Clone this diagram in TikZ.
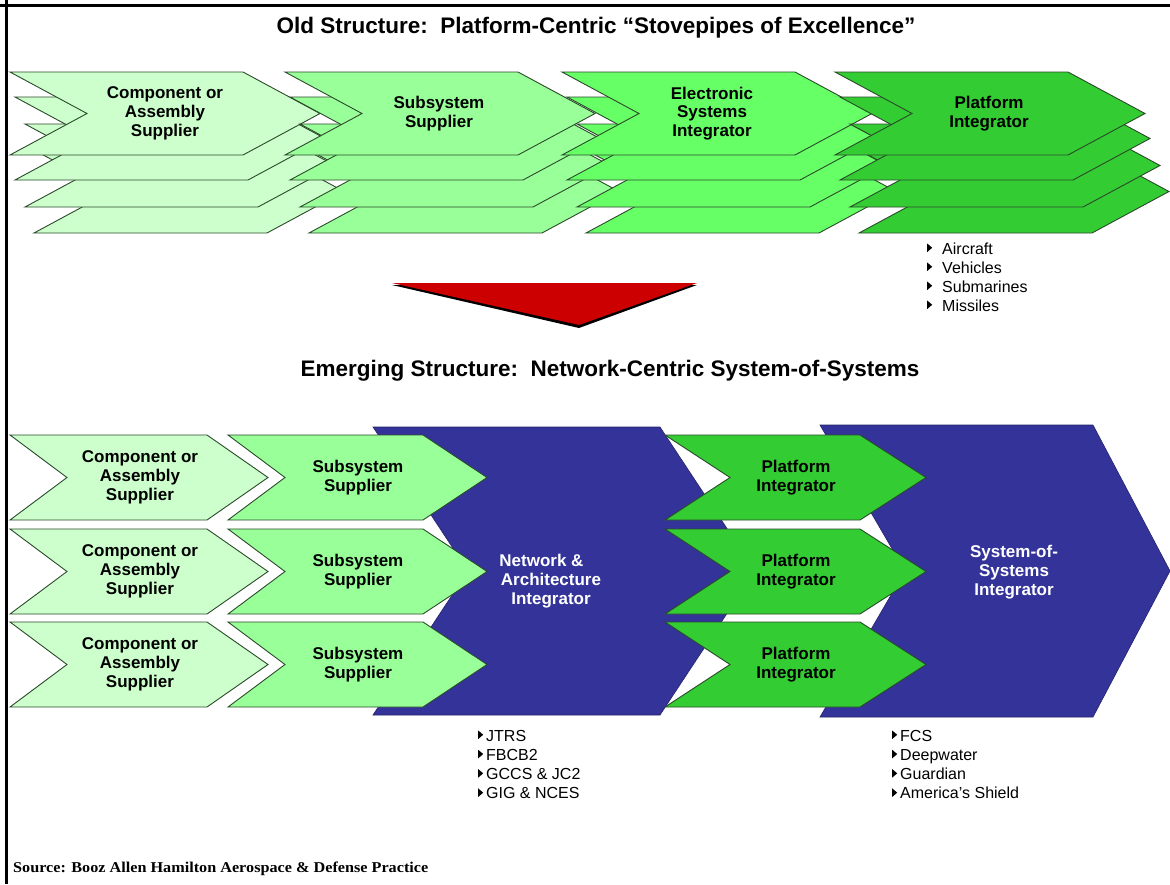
\documentclass[tikz,border=0pt]{standalone}
\usepackage{fontspec}
\usepackage{graphicx}
\setmainfont{Liberation Sans}
\newfontfamily\srcfont{Liberation Serif}
\definecolor{gA}{HTML}{CCFFCC}
\definecolor{gB}{HTML}{99FF99}
\definecolor{gC}{HTML}{66FF66}
\definecolor{gD}{HTML}{33CC33}
\definecolor{edgec}{HTML}{2B4A2B}
\definecolor{nblue}{HTML}{333399}
\definecolor{tred}{HTML}{CC0000}
% chevron: #1 left x, #2 top y, #3 body width, #4 height, #5 notch depth, #6 tip depth, #7 style
\newcommand\chevshape[7]{\draw[#7] (#1,#2) -- ++(#3,0) -- ++(#6,#4/2) -- ++(-#6,#4/2) -- ++(-#3,0) -- ++(#5,-#4/2) -- cycle;}
\newcommand\bul{\tikz[x=1pt,y=1pt,baseline=-2pt]\fill[black] (0,0) -- (0,8.5) -- (5,4.25) -- cycle;}
\begin{document}
\begin{tikzpicture}[x=1pt,y=-1pt,
  edge/.style={draw=edgec, line width=0.9pt, line join=miter},
  lab/.style={font=\fontsize{17}{18.7}\selectfont\bfseries, align=center, inner sep=0pt},
  wlab/.style={lab, text=white},
  ttl/.style={font=\fontsize{22.5}{26}\selectfont\bfseries, inner sep=0pt, anchor=base},
  bl/.style={font=\fontsize{16}{19}\selectfont, inner sep=0pt, anchor=base west},
]
\useasboundingbox (0,0) rectangle (1170,884);
\fill[white] (0,0) rectangle (1170,884);

% frame
\draw[line width=3pt] (0,5.5) -- (1170,5.5);
\draw[line width=3pt] (6.5,0) -- (6.5,884);

% titles
\node[ttl] (t1) at (596,33) {Old Structure:\ \ Platform-Centric “Stovepipes of Excellence”};
\node[ttl] (t2) at (610,376) {Emerging Structure:\ \ Network-Centric System-of-Systems};

% ---------- old structure: stacked chevrons ----------
\foreach \L/\c in {10/gA,285/gB,562/gC,835/gD} {
  \foreach \ox/\oy in {24/78,15/52,5/25,0/0} {
    \chevshape{\L+\ox}{72+\oy}{233}{83}{77}{77}{fill=\c, edge}
  }
}
\node[lab] (u1) at (165,113.5) {Component or\\Assembly\\Supplier};
\node[lab] (u2) at (439,113.5) {Subsystem\\Supplier};
\node[lab] (u3) at (712,113.5) {Electronic\\Systems\\Integrator};
\node[lab] (u4) at (989,113.5) {Platform\\Integrator};

\foreach \t [count=\i] in {Aircraft,Vehicles,Submarines,Missiles}
  \node[bl] (pl\i) at (927,{254+19*(\i-1)}) {\bul\hspace{10pt}\t};

% red transition arrow
\fill[black] (392,285) -- (697,285) -- (579,328) -- cycle;
\fill[tred] (392,283) -- (697,283) -- (579,325) -- cycle;

% ---------- emerging structure ----------
\chevshape{373}{427}{287}{288}{95}{95}{fill=nblue, draw=nblue!70!black, line width=0.6pt}
\chevshape{820}{425}{273}{292}{85}{77}{fill=nblue, draw=nblue!70!black, line width=0.6pt}

\foreach \t [count=\r] in {435,529,622} {
  \chevshape{10}{\t}{197}{85}{57}{61}{fill=gA, edge}
  \chevshape{228}{\t}{195}{85}{57}{64}{fill=gB, edge}
  \chevshape{665}{\t}{195}{85}{65}{66}{fill=gD, edge}
  \node[lab] (c\r) at (140,{\t+42.5}) {Component or\\Assembly\\Supplier};
  \node[lab] (s\r) at (358,{\t+42.5}) {Subsystem\\Supplier};
  \node[lab] (p\r) at (796,{\t+42.5}) {Platform\\Integrator};
}
\node[wlab] (net) at (551,581) {\mbox{Network \&\kern19pt}\\Architecture\\Integrator};
\node[wlab] (sos) at (1014,572) {System-of-\\Systems\\Integrator};

\foreach \t [count=\i] in {JTRS,FBCB2,GCCS \& JC2,GIG \& NCES}
  \node[bl] (na\i) at (478,{741+19.3*(\i-1)}) {\bul\hspace{3pt}\t};
\foreach \t [count=\i] in {FCS,Deepwater,Guardian,America’s Shield}
  \node[bl] (sa\i) at (892,{741+19.3*(\i-1)}) {\bul\hspace{3pt}\t};

% source
\node[font=\srcfont\bfseries\fontsize{15}{17}\selectfont, inner sep=0pt, anchor=base west] (src) at (13,872) {\scalebox{1.08}[1]{Source: Booz Allen Hamilton Aerospace \& Defense Practice}};
\end{tikzpicture}
\end{document}
